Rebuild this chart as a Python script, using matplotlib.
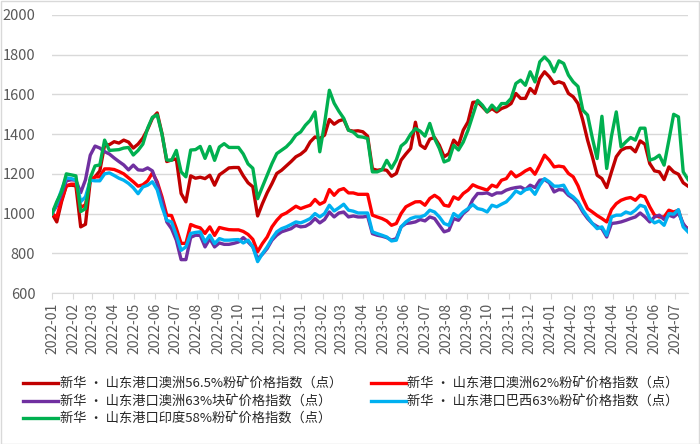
import matplotlib
matplotlib.use('Agg')
import matplotlib.pyplot as plt
import matplotlib.dates as mdates
import pandas as pd
from matplotlib.patches import Rectangle

plt.rcParams['font.family'] = ['Noto Sans CJK SC', 'DejaVu Sans']

# weekly index values, first week of 2022 = 1000
start_date = '2022-01-01'

au565 = [1000, 958, 1060, 1140, 1143, 1140, 933, 946, 1165, 1185, 1215, 1345, 1347, 1362, 1355, 1370, 1360, 1330, 1350, 1380, 1425, 1480, 1507,
         1403, 1262, 1270, 1275, 1101, 1059, 1190, 1178, 1183, 1176, 1193, 1143, 1195, 1212, 1230, 1232, 1232, 1190, 1155, 1135,
         988, 1050, 1105, 1151, 1202, 1218, 1240, 1262, 1286, 1299, 1319, 1361, 1386, 1378, 1395, 1474, 1450, 1467, 1474, 1420, 1415, 1417, 1412, 1390,
         1225, 1218, 1222, 1218, 1188, 1202, 1269, 1300, 1328, 1460, 1345, 1328, 1375, 1383, 1344, 1286, 1302, 1370, 1344, 1420, 1462, 1560,
         1563, 1538, 1512, 1529, 1512, 1529, 1538, 1554, 1605, 1580, 1580, 1630, 1605, 1680, 1714, 1689, 1655, 1664, 1655, 1605, 1588, 1554,
         1470, 1370, 1286, 1193, 1176, 1131, 1210, 1286, 1319, 1331, 1333, 1311, 1366, 1349, 1252, 1215, 1210, 1171, 1235, 1210, 1198, 1155, 1138]

au62 = [1000, 983, 1070, 1140, 1148, 1148, 1030, 1045, 1170, 1185, 1185, 1225, 1225, 1222, 1212, 1200, 1180, 1160, 1138, 1145, 1165, 1205, 1160,
        1084, 992, 990, 925, 850, 850, 945, 935, 928, 900, 933, 890, 930, 924, 919, 918, 918, 910, 895, 870,
        808, 849, 882, 933, 966, 992, 1003, 1020, 1037, 1025, 1034, 1042, 1071, 1047, 1059, 1121, 1092, 1118, 1126, 1104, 1104, 1097, 1097, 1097,
        992, 983, 975, 963, 941, 950, 1000, 1034, 1047, 1059, 1060, 1042, 1076, 1092, 1076, 1042, 1037, 1084, 1072, 1101, 1118, 1145,
        1134, 1126, 1118, 1143, 1134, 1168, 1176, 1210, 1185, 1198, 1215, 1227, 1198, 1244, 1294, 1269, 1235, 1239, 1235, 1202, 1185, 1140,
        1076, 1025, 1008, 990, 975, 958, 1020, 1050, 1067, 1076, 1081, 1067, 1092, 1084, 1034, 992, 983, 983, 1017, 1008, 1017, 941, 924]

au63_lump = [1000, 1040, 1100, 1165, 1170, 1168, 1105, 1170, 1294, 1340, 1330, 1312, 1300, 1280, 1262, 1245, 1220, 1244, 1220, 1218, 1230, 1215, 1150,
             1067, 958, 924, 866, 768, 768, 880, 891, 890, 832, 874, 832, 852, 845, 845, 850, 857, 879, 857, 832,
             773, 795, 824, 866, 891, 908, 916, 924, 941, 933, 936, 950, 975, 953, 970, 1008, 983, 1003, 1008, 983, 988, 983, 983, 987,
             899, 891, 886, 879, 866, 874, 933, 950, 953, 958, 970, 963, 983, 975, 941, 908, 916, 975, 966, 1000, 1020, 1070,
             1101, 1101, 1104, 1092, 1104, 1104, 1118, 1126, 1131, 1134, 1121, 1143, 1131, 1168, 1171, 1155, 1109, 1121, 1118, 1092, 1076, 1050,
             1008, 975, 950, 935, 924, 882, 950, 953, 958, 966, 975, 983, 1003, 983, 958, 983, 992, 970, 992, 983, 1003, 950, 916]

br63 = [1000, 1050, 1120, 1180, 1176, 1170, 1060, 1084, 1168, 1165, 1165, 1200, 1205, 1192, 1178, 1168, 1152, 1130, 1100, 1134, 1143, 1160, 1120,
        1034, 966, 958, 891, 815, 832, 900, 905, 908, 857, 891, 849, 874, 866, 866, 868, 869, 852, 866, 832,
        758, 798, 832, 874, 908, 924, 933, 945, 958, 953, 963, 975, 1000, 983, 1000, 1042, 1013, 1029, 1047, 1017, 1012, 1003, 1003, 1003,
        908, 899, 891, 882, 862, 866, 933, 958, 975, 983, 983, 992, 1017, 1008, 983, 950, 941, 1000, 983, 1008, 1025, 1045,
        1025, 1020, 1008, 1042, 1034, 1047, 1059, 1084, 1114, 1101, 1120, 1126, 1097, 1143, 1176, 1160, 1138, 1138, 1143, 1101, 1084, 1060,
        1017, 983, 950, 924, 933, 891, 983, 992, 992, 1008, 1000, 1017, 1042, 1034, 975, 953, 963, 941, 1000, 997, 1020, 933, 908]

in58 = [1000, 1060, 1110, 1200, 1195, 1190, 1010, 1025, 1180, 1240, 1245, 1370, 1318, 1320, 1322, 1330, 1333, 1295, 1318, 1350, 1430, 1485, 1497,
        1400, 1270, 1268, 1318, 1210, 1185, 1320, 1322, 1338, 1278, 1338, 1268, 1335, 1352, 1333, 1333, 1333, 1300, 1250, 1228,
        1075, 1135, 1193, 1252, 1302, 1319, 1336, 1361, 1395, 1411, 1445, 1470, 1512, 1311, 1454, 1621, 1556, 1515, 1480, 1420, 1410, 1388, 1385, 1378,
        1210, 1210, 1220, 1268, 1228, 1270, 1340, 1360, 1400, 1428, 1415, 1390, 1454, 1378, 1328, 1260, 1270, 1344, 1320, 1360, 1420, 1495,
        1570, 1546, 1512, 1546, 1521, 1554, 1554, 1580, 1655, 1672, 1646, 1714, 1663, 1764, 1789, 1764, 1714, 1769, 1756, 1697, 1663, 1640,
        1521, 1496, 1380, 1277, 1490, 1227, 1390, 1512, 1336, 1361, 1383, 1370, 1430, 1430, 1269, 1277, 1294, 1244, 1369, 1500, 1487, 1210, 1172]

series_names = ['新华 · 山东港口澳洲56.5%粉矿价格指数（点）',
                '新华 · 山东港口澳洲62%粉矿价格指数（点）',
                '新华 · 山东港口澳洲63%块矿价格指数（点）',
                '新华 · 山东港口巴西63%粉矿价格指数（点）',
                '新华 · 山东港口印度58%粉矿价格指数（点）']
series_colors = ['#C00000', '#FF0000', '#7030A0', '#00B0F0', '#00B050']

dates = pd.date_range(start_date, periods=len(au565), freq='7D')

fig = plt.figure(figsize=(7, 4.44), dpi=100)
ax = fig.add_axes([52 / 700, 1 - 293 / 444, (688 - 52) / 700, (293 - 15) / 444])

lines = []
for vals, name, col in zip([au565, au62, au63_lump, br63, in58], series_names, series_colors):
    ln, = ax.plot(dates, vals, color=col, lw=2.4, label=name, solid_joinstyle='round')
    lines.append(ln)

ax.set_ylim(600, 2000)
ax.set_yticks(range(600, 2001, 200))
ax.set_xlim(dates[0], dates[-1])
ax.xaxis.set_major_locator(mdates.MonthLocator())
ax.xaxis.set_major_formatter(mdates.DateFormatter('%Y-%m'))
plt.setp(ax.get_xticklabels(), rotation=90)

ax.grid(axis='y', color='#d9d9d9', lw=1)
ax.set_axisbelow(True)
for s in ['top', 'right', 'left']:
    ax.spines[s].set_visible(False)
ax.spines['bottom'].set_color('#d9d9d9')
ax.tick_params(axis='y', length=0, pad=12, labelsize=10.5, labelcolor='#595959')
ax.tick_params(axis='x', length=4, color='#d9d9d9', pad=3, labelsize=10, labelcolor='#595959')

# legend: rows go left-right, so fill column 1 with items 0,2,4
order = [0, 2, 4, 1, 3]
fig.legend([lines[i] for i in order], [series_names[i] for i in order],
           loc='upper left', bbox_to_anchor=(0.02, 0.17), ncol=2, frameon=False,
           fontsize=9.5, handlelength=2.65, handletextpad=0.1, columnspacing=2.2,
           labelspacing=0.32, borderpad=0.2, labelcolor='#262626')

fig.patches.append(Rectangle((0.001, 0.001), 0.997, 0.997, transform=fig.transFigure,
                             fill=False, edgecolor='#d9d9d9', lw=1))

fig.savefig('out.png', dpi=100)
